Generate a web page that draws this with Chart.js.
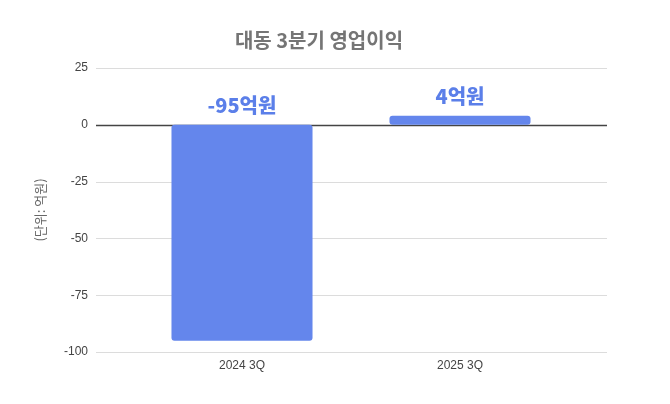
<!DOCTYPE html>
<html><head><meta charset="utf-8">
<script src="https://cdn.jsdelivr.net/npm/chart.js@4"></script>
<style>html,body{margin:0;padding:0;background:#fff}#wrap{width:670px;height:404px}</style>
</head><body><div id="wrap"><canvas id="c"></canvas></div>
<script>
const categories = ['2024 3Q', '2025 3Q'];
const values = [-95, 4];
const yTicks = [25, 0, -25, -50, -75, -100];
const titleText = '대동 3분기 영업이익';
const yTitle = '(단위: 억원)';
const unit = '억원';

const gridPlugin = {
  id: 'grid',
  beforeDatasetsDraw(chart) {
    const {ctx, chartArea, scales} = chart;
    const y = scales.y;
    ctx.save();
    yTicks.forEach(v => {
      const py = Math.round(y.getPixelForValue(v)) + 0.5;
      ctx.beginPath();
      ctx.strokeStyle = v === 0 ? '#444' : '#dcdcdc';
      ctx.lineWidth = v === 0 ? 1.3 : 1;
      ctx.moveTo(chartArea.left - 37, py);
      ctx.lineTo(chartArea.right + 38, py);
      ctx.stroke();
    });
    ctx.restore();
  }
};
const labelPlugin = {
  id: 'labels',
  afterDatasetsDraw(chart) {
    const {ctx, scales} = chart;
    const meta = chart.getDatasetMeta(0);
    ctx.save();
    ctx.font = '900 20px "Noto Sans CJK KR", "Noto Sans", sans-serif';
    ctx.fillStyle = '#5b7fe9';
    ctx.textAlign = 'center';
    ctx.textBaseline = 'middle';
    values.forEach((v, i) => {
      const x = meta.data[i].x;
      const py = scales.y.getPixelForValue(Math.max(v, 0));
      ctx.fillText(v + unit, x, py - 19);
    });
    ctx.restore();
  }
};

new Chart(document.getElementById('c'), {
  type: 'bar',
  data: {
    labels: categories,
    datasets: [{
      data: values,
      backgroundColor: '#6486ec',
      borderRadius: 3,
      borderSkipped: false,
      categoryPercentage: 0.647,
      barPercentage: 1
    }]
  },
  options: {
    responsive: true,
    maintainAspectRatio: false,
    animation: false,
    layout: { padding: { left: 0, right: 32, top: 0, bottom: 0 } },
    plugins: {
      legend: { display: false },
      tooltip: { enabled: false },
      title: {
        display: true,
        text: titleText,
        color: '#757575',
        font: { family: '"Noto Sans CJK KR", sans-serif', size: 20, weight: 'bold' },
        padding: { top: 28, bottom: 16 }
      }
    },
    scales: {
      x: {
        afterFit: s => { s.height = 52; },
        grid: { display: false },
        border: { display: false },
        ticks: { color: '#444', padding: -2, font: { family: 'Arial, "Liberation Sans", sans-serif', size: 12 } }
      },
      y: {
        min: -100, max: 25,
        afterBuildTicks: s => { s.ticks = yTicks.map(v => ({ value: v })); },
        afterFit: s => { s.width = 133; },
        grid: { display: false },
        border: { display: false },
        ticks: { color: '#444', padding: 37, font: { family: 'Arial, "Liberation Sans", sans-serif', size: 12 } },
        title: {
          display: true, text: yTitle, color: '#666',
          font: { family: '"Noto Sans CJK KR", sans-serif', size: 13 },
          padding: { top: 32, bottom: 0 }
        }
      },
      y2: {
        position: 'right',
        display: true,
        grid: { display: false },
        border: { display: false },
        ticks: { display: false },
        afterFit: s => { s.width = 69; }
      }
    }
  },
  plugins: [gridPlugin, labelPlugin]
});
</script></body></html>
